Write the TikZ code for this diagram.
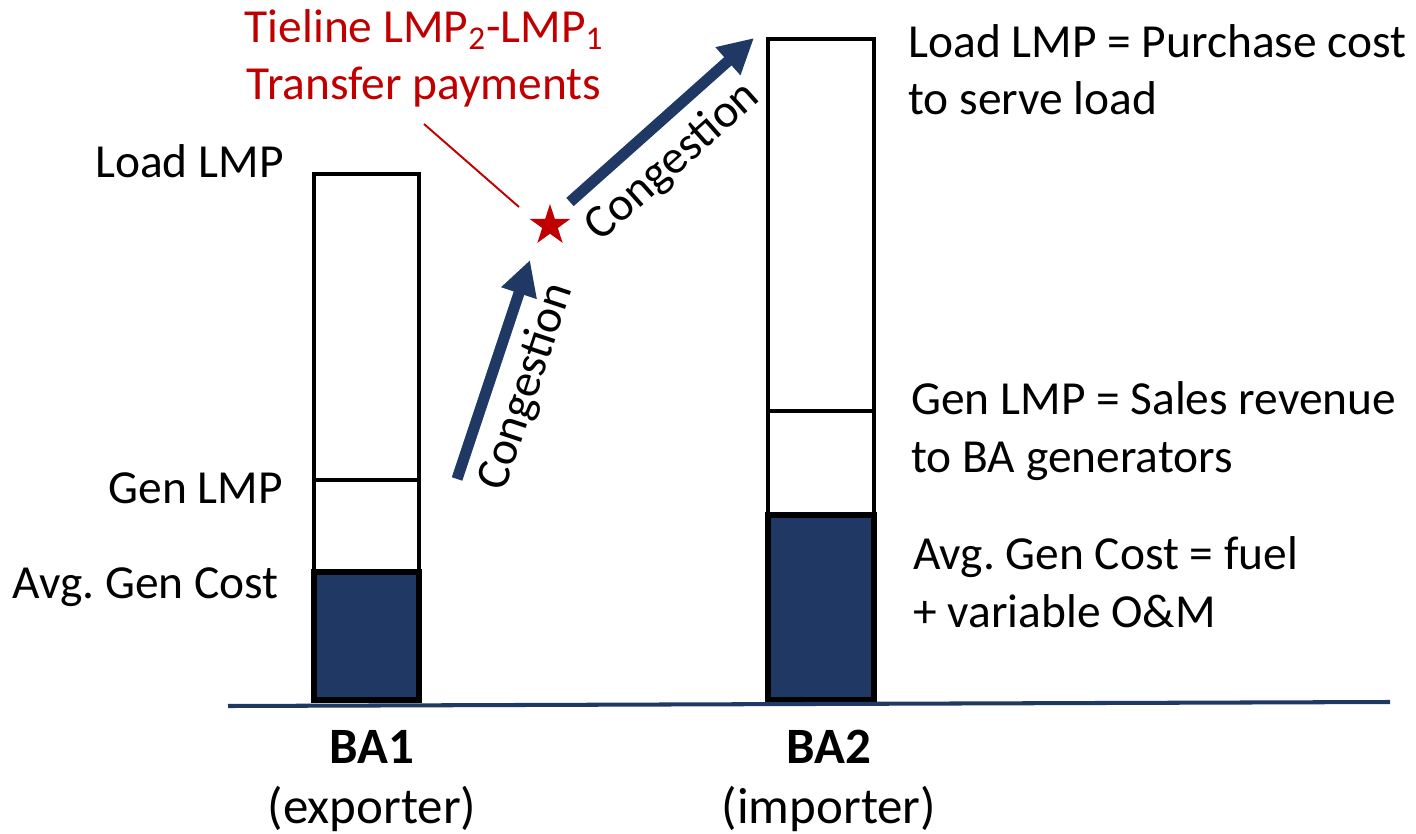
\documentclass[tikz,border=0pt]{standalone}
\usepackage{fontspec}
\setmainfont{Carlito}
\usepackage{tikz}
\usetikzlibrary{shapes.geometric, arrows.meta}
\definecolor{bablue}{RGB}{31,56,100}
\definecolor{tiered}{RGB}{192,0,0}
\frenchspacing
\tikzstyle{bar} = [draw=black, line width=2.3pt, fill=white]
\tikzstyle{costbar} = [draw=black, line width=3.8pt, fill=bablue]
\tikzstyle{flow} = [draw=bablue, line width=6.3pt, -{Triangle[width=0.7cm, length=0.7cm]}]
\tikzstyle{lbl} = [inner sep=0pt, align=left]
\tikzstyle{baname} = [inner sep=0pt, align=center, anchor=base, font=\fontsize{29}{34}\selectfont]
\tikzstyle{tiestar} = [star, star points=5, star point ratio=2.618, minimum size=0.86cm, inner sep=0pt, fill=tiered]
\tikzstyle{tieline} = [draw=tiered, line width=1.1pt]

\begin{document}
\begin{tikzpicture}[x=0.02cm, y=-0.02cm, font=\fontsize{27}{32.5}\selectfont]
	\useasboundingbox (0,0) rectangle (1416,834);

	% BA1 bar
	\draw [bar] (314,174) rectangle (419,480);
	\draw [bar] (314,480) rectangle (419,572);
	\draw [costbar] (314,572) rectangle (419,700);
	% BA2 bar
	\draw [bar] (768,39) rectangle (874,411);
	\draw [bar] (768,411) rectangle (874,515);
	\draw [costbar] (768,515) rectangle (874,700);
	% ground
	\draw [draw=bablue, line width=2.3pt] (228,706) -- (1390,702);

	\node (load1) [lbl, anchor=base east] at (284,178) {Load LMP};
	\node (gen1) [lbl, anchor=base east] at (283,503) {Gen LMP};
	\node (cost1) [lbl, anchor=base east] at (279,598) {Avg. Gen Cost};
	\node (load2) [lbl, anchor=base west] at (908,115) {Load LMP = Purchase cost\\to serve load};
	\node (gen2) [lbl, anchor=base west] at (911,472) {Gen LMP = Sales revenue\\to BA generators};
	\node (cost2) [lbl, anchor=base west] at (913,627) {Avg. Gen Cost = fuel\\+ variable O\&M};
	\node (ba1) [baname] at (372,823) {\textbf{BA1}\\(exporter)};
	\node (ba2) [baname] at (829,823) {\textbf{BA2}\\(importer)};

	\node (tie) [lbl, align=center, text=tiered, anchor=base] at (424,100) {Tieline LMP\textsubscript{2}-LMP\textsubscript{1}\\Transfer payments};
	\node (tiept) [tiestar] at (550,225.5) {};
	\coordinate (tieA) at (424,124);
	\coordinate (tieB) at (519,207);
	\draw [tieline] (tieA) -- (tieB);

	\coordinate (c1) at (457,479);
	\coordinate (t1) at (530,260);
	\coordinate (c2) at (570,202);
	\coordinate (t2) at (754,38);
	\draw [flow] (c1) -- (t1);
	\draw [flow] (c2) -- (t2);
	\node (cong1) [rotate=71.6] at (527,387) {Congestion};
	\node (cong2) [rotate=41.6] at (673,162) {Congestion};
\end{tikzpicture}
\end{document}
